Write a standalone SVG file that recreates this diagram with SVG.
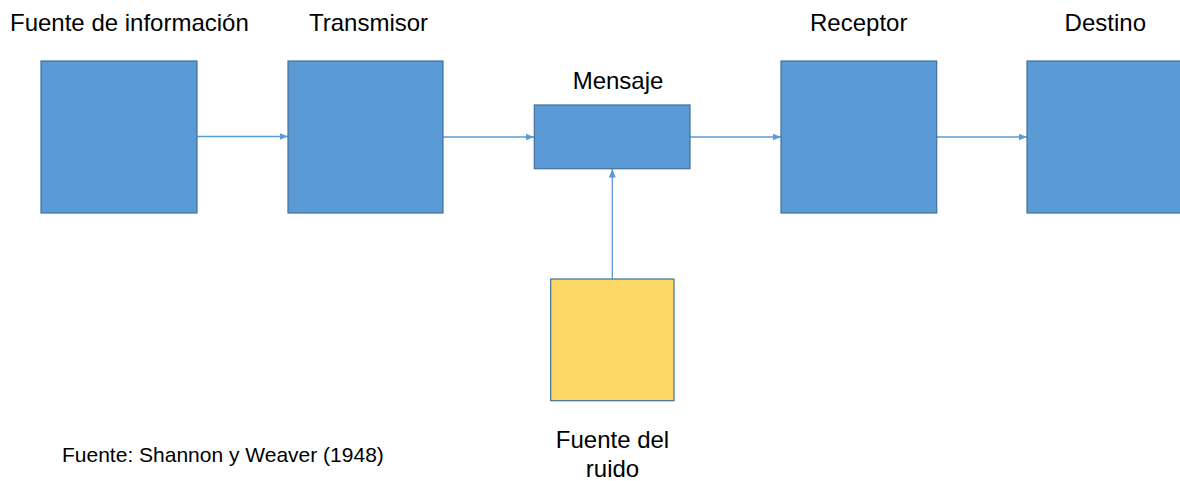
<svg xmlns="http://www.w3.org/2000/svg" width="1180" height="481" viewBox="0 0 1180 481">
  <style>
    .blk { fill: #5B9BD5; stroke: #41719C; stroke-width: 1.2; }
    .noise { fill: #FDD866; stroke: #41719C; stroke-width: 1.2; }
    .lbl { font-family: "Liberation Sans", Arial, sans-serif; font-size: 24px; fill: #000; }
    .src { font-family: "Liberation Sans", Arial, sans-serif; font-size: 21px; fill: #000; }
    .conn { stroke: #5B9BD5; stroke-width: 1.3; fill: none; marker-end: url(#arr); }
  </style>
  <defs>
    <marker id="arr" markerUnits="userSpaceOnUse" markerWidth="9" markerHeight="8" refX="8.5" refY="4" orient="auto">
      <path d="M0,0.5 L8.5,4 L0,7.5 z" fill="#5B9BD5"/>
    </marker>
  </defs>
  <rect width="1180" height="481" fill="#FFFFFF"/>

  <g id="connectors">
    <line class="conn" x1="197" y1="136.5" x2="288" y2="136.5"/>
    <line class="conn" x1="443" y1="137" x2="534" y2="137"/>
    <line class="conn" x1="690" y1="137" x2="781" y2="137"/>
    <line class="conn" x1="937" y1="137" x2="1027" y2="137"/>
    <line class="conn" x1="612.3" y1="279" x2="612.3" y2="169"/>
  </g>

  <g id="fuente-informacion">
    <rect class="blk" x="41" y="61" width="156" height="152"/>
    <text class="lbl" x="10" y="30.5">Fuente de información</text>
  </g>
  <g id="transmisor">
    <rect class="blk" x="288" y="61" width="155" height="152"/>
    <text class="lbl" x="368.5" y="30.5" text-anchor="middle">Transmisor</text>
  </g>
  <g id="mensaje">
    <rect class="blk" x="534.3" y="105" width="155.7" height="63.7"/>
    <text class="lbl" x="618" y="89.3" text-anchor="middle">Mensaje</text>
  </g>
  <g id="receptor">
    <rect class="blk" x="781" y="61" width="155.7" height="152"/>
    <text class="lbl" x="858.7" y="30.5" text-anchor="middle">Receptor</text>
  </g>
  <g id="destino">
    <rect class="blk" x="1027" y="61" width="156" height="152"/>
    <text class="lbl" x="1105.3" y="30.5" text-anchor="middle">Destino</text>
  </g>
  <g id="fuente-ruido">
    <rect class="noise" x="550.7" y="279" width="123.3" height="121.7"/>
    <text class="lbl" x="612.5" y="448" text-anchor="middle">Fuente del</text>
    <text class="lbl" x="612.5" y="476.5" text-anchor="middle">ruido</text>
  </g>
  <g id="fuente-cita">
    <text class="src" x="62" y="461.7">Fuente: Shannon y Weaver (1948)</text>
  </g>
</svg>
